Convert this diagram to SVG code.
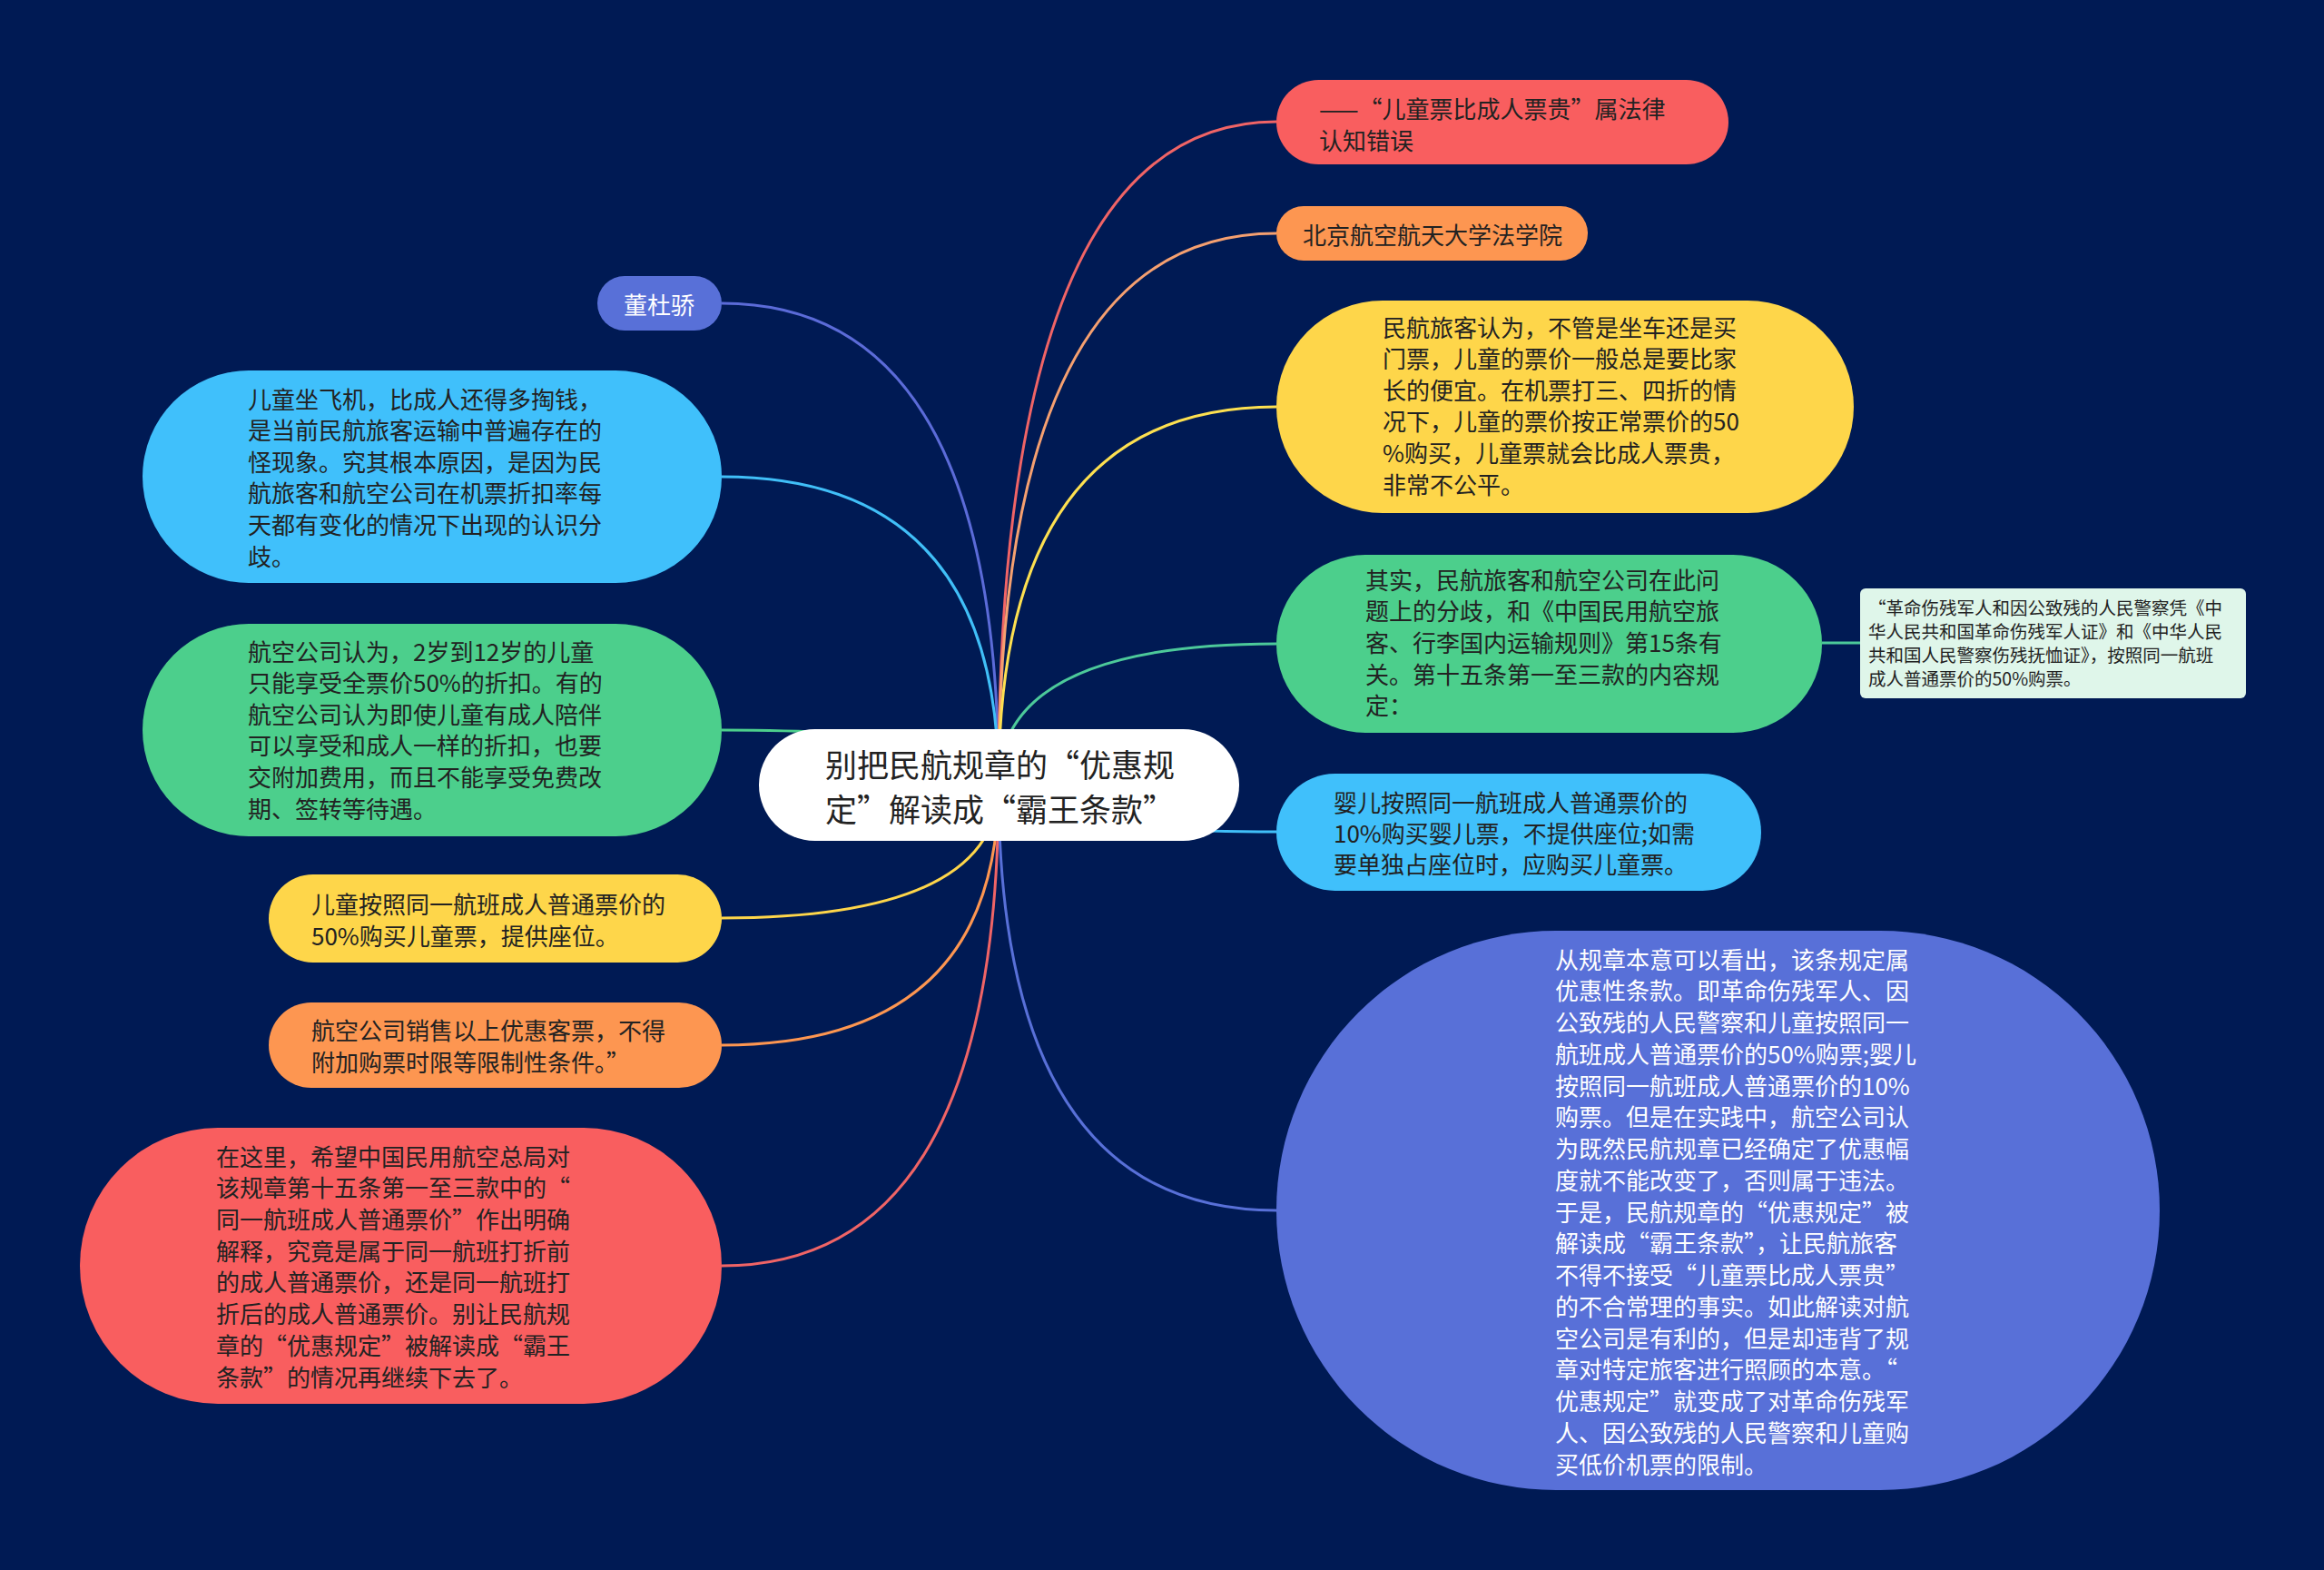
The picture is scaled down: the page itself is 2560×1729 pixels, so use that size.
<svg xmlns="http://www.w3.org/2000/svg" width="2560" height="1729" viewBox="0 0 2560 1729">
<style>
text{font-family:"Noto Sans CJK SC","Microsoft YaHei",sans-serif;font-size:26px;fill:#222;dominant-baseline:central}
.w{fill:#fff}
.root{font-size:35px}
.small{font-size:19.5px}
.c{fill:none;stroke-width:3}
</style>
<rect width="2560" height="1729" fill="#001a54"/>
<g id="connectors">
<path class="c" stroke="#5b6bd8" d="M1100 864 Q1100 334 795 334"/>
<path class="c" stroke="#40bff8" d="M1100 864 Q1100 525 795 525"/>
<path class="c" stroke="#4ccf8c" d="M1100 864 Q1100 804 795 804"/>
<path class="c" stroke="#fed64a" d="M1100 864 Q1100 1011 795 1011"/>
<path class="c" stroke="#fd9651" d="M1100 864 Q1100 1151 795 1151"/>
<path class="c" stroke="#f06466" d="M1100 864 Q1100 1394 795 1394"/>
<path class="c" stroke="#f06466" d="M1100 864 Q1100 134 1406 134"/>
<path class="c" stroke="#f5a070" d="M1100 864 Q1100 257 1406 257"/>
<path class="c" stroke="#fde050" d="M1100 864 Q1100 448 1406 448"/>
<path class="c" stroke="#4cc99a" d="M1100 864 Q1100 709 1406 709"/>
<path class="c" stroke="#40bff8" d="M1100 864 Q1100 916 1406 916"/>
<path class="c" stroke="#5870d8" d="M1100 864 Q1100 1333 1406 1333"/>
<path class="c" stroke="#4cc99a" d="M2007 708 L2049 708"/>
</g>
<g id="root">
<rect x="836" y="803" width="529" height="123" rx="61.5" fill="#fff"/>
<text class="root" x="909" y="840">别把民航规章的“优惠规</text>
<text class="root" x="909" y="889">定”解读成“霸王条款”</text>
</g>
<g id="r1">
<rect x="1406" y="88" width="498" height="93" rx="46.5" fill="#f95e5f"/>
<text x="1453" y="118">——“儿童票比成人票贵”属法律</text>
<text x="1453" y="153">认知错误</text>
</g>
<g id="r2">
<rect x="1406" y="227" width="343" height="60" rx="30" fill="#fd9651"/>
<text x="1435" y="257">北京航空航天大学法学院</text>
</g>
<g id="r3">
<rect x="1406" y="331" width="636" height="234" rx="117" fill="#fed64a"/>
<text x="1523" y="359">民航旅客认为，不管是坐车还是买</text>
<text x="1523" y="393.6">门票，儿童的票价一般总是要比家</text>
<text x="1523" y="428.2">长的便宜。在机票打三、四折的情</text>
<text x="1523" y="462.8">况下，儿童的票价按正常票价的50</text>
<text x="1523" y="497.4">%购买，儿童票就会比成人票贵，</text>
<text x="1523" y="532">非常不公平。</text>
</g>
<g id="r4">
<rect x="1406" y="611" width="601" height="196" rx="98" fill="#4ccf8c"/>
<text x="1504" y="637">其实，民航旅客和航空公司在此问</text>
<text x="1504" y="671.7">题上的分歧，和《中国民用航空旅</text>
<text x="1504" y="706.4">客、行李国内运输规则》第15条有</text>
<text x="1504" y="741.1">关。第十五条第一至三款的内容规</text>
<text x="1504" y="775.8">定：</text>
</g>
<g id="r4a">
<rect x="2049" y="648" width="425" height="121" rx="6" fill="#dff6ea"/>
<text class="small" x="2058" y="668">“革命伤残军人和因公致残的人民警察凭《中</text>
<text class="small" x="2058" y="694">华人民共和国革命伤残军人证》和《中华人民</text>
<text class="small" x="2058" y="720">共和国人民警察伤残抚恤证》，按照同一航班</text>
<text class="small" x="2058" y="746">成人普通票价的50%购票。</text>
</g>
<g id="r5">
<rect x="1406" y="852" width="534" height="129" rx="64.5" fill="#40c0fb"/>
<text x="1469" y="882">婴儿按照同一航班成人普通票价的</text>
<text x="1469" y="916">10%购买婴儿票，不提供座位;如需</text>
<text x="1469" y="950">要单独占座位时，应购买儿童票。</text>
</g>
<g id="r6">
<rect x="1406" y="1025" width="973" height="616" rx="308" fill="#5870d8"/>
<text class="w" x="1713" y="1055">从规章本意可以看出，该条规定属</text>
<text class="w" x="1713" y="1089.75">优惠性条款。即革命伤残军人、因</text>
<text class="w" x="1713" y="1124.5">公致残的人民警察和儿童按照同一</text>
<text class="w" x="1713" y="1159.25">航班成人普通票价的50%购票;婴儿</text>
<text class="w" x="1713" y="1194">按照同一航班成人普通票价的10%</text>
<text class="w" x="1713" y="1228.75">购票。但是在实践中，航空公司认</text>
<text class="w" x="1713" y="1263.5">为既然民航规章已经确定了优惠幅</text>
<text class="w" x="1713" y="1298.25">度就不能改变了，否则属于违法。</text>
<text class="w" x="1713" y="1333">于是，民航规章的“优惠规定”被</text>
<text class="w" x="1713" y="1367.75">解读成“霸王条款”，让民航旅客</text>
<text class="w" x="1713" y="1402.5">不得不接受“儿童票比成人票贵”</text>
<text class="w" x="1713" y="1437.25">的不合常理的事实。如此解读对航</text>
<text class="w" x="1713" y="1472">空公司是有利的，但是却违背了规</text>
<text class="w" x="1713" y="1506.75">章对特定旅客进行照顾的本意。“</text>
<text class="w" x="1713" y="1541.5">优惠规定”就变成了对革命伤残军</text>
<text class="w" x="1713" y="1576.25">人、因公致残的人民警察和儿童购</text>
<text class="w" x="1713" y="1611">买低价机票的限制。</text>
</g>
<g id="l1">
<rect x="658" y="304" width="137" height="60" rx="30" fill="#5870d8"/>
<text class="w" x="687" y="334">董杜骄</text>
</g>
<g id="l2">
<rect x="157" y="408" width="638" height="234" rx="117" fill="#40c0fb"/>
<text x="273" y="438">儿童坐飞机，比成人还得多掏钱，</text>
<text x="273" y="472.6">是当前民航旅客运输中普遍存在的</text>
<text x="273" y="507.2">怪现象。究其根本原因，是因为民</text>
<text x="273" y="541.8">航旅客和航空公司在机票折扣率每</text>
<text x="273" y="576.4">天都有变化的情况下出现的认识分</text>
<text x="273" y="611">歧。</text>
</g>
<g id="l3">
<rect x="157" y="687" width="638" height="234" rx="117" fill="#4ccf8c"/>
<text x="273" y="716">航空公司认为，2岁到12岁的儿童</text>
<text x="273" y="750.6">只能享受全票价50%的折扣。有的</text>
<text x="273" y="785.2">航空公司认为即使儿童有成人陪伴</text>
<text x="273" y="819.8">可以享受和成人一样的折扣，也要</text>
<text x="273" y="854.4">交附加费用，而且不能享受免费改</text>
<text x="273" y="889">期、签转等待遇。</text>
</g>
<g id="l4">
<rect x="296" y="963" width="499" height="97" rx="48.5" fill="#fed64a"/>
<text x="343" y="994">儿童按照同一航班成人普通票价的</text>
<text x="343" y="1029">50%购买儿童票，提供座位。</text>
</g>
<g id="l5">
<rect x="296" y="1104" width="499" height="94" rx="47" fill="#fd9651"/>
<text x="343" y="1133">航空公司销售以上优惠客票，不得</text>
<text x="343" y="1168">附加购票时限等限制性条件。”</text>
</g>
<g id="l6">
<rect x="88" y="1242" width="707" height="304" rx="152" fill="#f95e5f"/>
<text x="238" y="1272">在这里，希望中国民用航空总局对</text>
<text x="238" y="1306.7">该规章第十五条第一至三款中的“</text>
<text x="238" y="1341.4">同一航班成人普通票价”作出明确</text>
<text x="238" y="1376.1">解释，究竟是属于同一航班打折前</text>
<text x="238" y="1410.8">的成人普通票价，还是同一航班打</text>
<text x="238" y="1445.5">折后的成人普通票价。别让民航规</text>
<text x="238" y="1480.2">章的“优惠规定”被解读成“霸王</text>
<text x="238" y="1515">条款”的情况再继续下去了。</text>
</g>
</svg>
